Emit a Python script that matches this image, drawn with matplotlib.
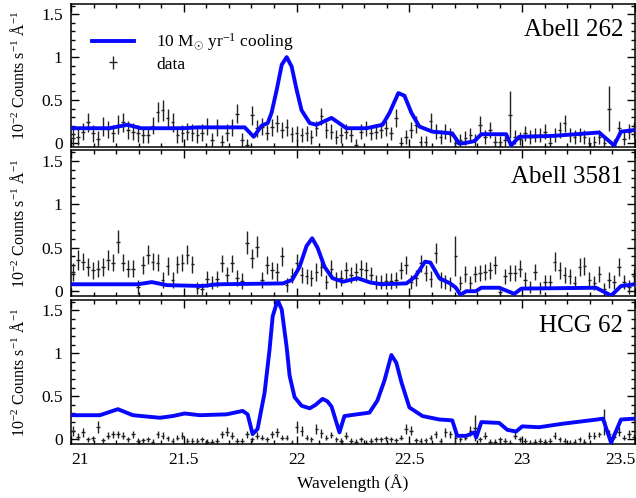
import numpy as np
import matplotlib
matplotlib.use("Agg")
import matplotlib.pyplot as plt
from matplotlib.ticker import MultipleLocator, FixedLocator, FuncFormatter
from matplotlib.legend_handler import HandlerErrorbar

plt.rcParams["font.family"] = ["Liberation Serif", "DejaVu Serif"]
plt.rcParams["mathtext.fontset"] = "custom"
plt.rcParams["mathtext.rm"] = "Liberation Serif"
plt.rcParams["mathtext.it"] = "Liberation Serif:italic"

# spectral bins (regular RGS-like grid)
wave = np.arange(114) * 0.022 + 21.01

names = ["Abell 262", "Abell 3581", "HCG 62"]
xticks = [21, 21.5, 22, 22.5, 23, 23.5]

# data (10^-2 counts/s/A)
a262_flux = [0.06, 0.07, 0.13, 0.24, 0.11, 0.05, 0.19, 0.16, 0.11, 0.21,
             0.24, 0.15, 0.13, 0.11, 0.09, 0.09, 0.20, 0.36, 0.38, 0.29,
             0.24, 0.09, 0.11, 0.13, 0.12, 0.09, 0.12, 0.19, 0.03, 0.18,
             0.01, 0.12, 0.18, 0.34, 0.03, -0.03, 0.32, 0.17, 0.19, 0.12,
             0.18, 0.23, 0.15, 0.18, 0.10, 0.11, 0.09, 0.11, 0.07, 0.17,
             0.31, 0.15, 0.13, 0.07, 0.09, 0.13, 0.09, -0.02, 0.13, 0.17,
             0.11, 0.13, 0.15, 0.17, 0.11, 0.29, 0.00, 0.07, 0.15, 0.21,
             0.015, 0.015, 0.25, 0.13, 0.07, 0.13, 0.09, 0.00, 0.035, 0.06,
             0.09, 0.035, 0.21, 0.07, 0.15, 0.015, 0.015, 0.035, 0.33, 0.07,
             0.05, 0.11, 0.07, 0.09, 0.09, 0.13, 0.00, 0.09, 0.15, 0.23,
             0.09, 0.07, 0.09, 0.07, 0.00, 0.015, 0.07, 0.00, 0.40, -0.02,
             0.17, 0.05, 0.13, 0.15]
a262_err = [0.10, 0.09, 0.10, 0.11, 0.10, 0.09, 0.11, 0.10, 0.10, 0.11,
            0.11, 0.10, 0.10, 0.10, 0.09, 0.09, 0.10, 0.12, 0.12, 0.11,
            0.11, 0.09, 0.10, 0.10, 0.10, 0.09, 0.10, 0.10, 0.08, 0.10,
            0.08, 0.10, 0.10, 0.11, 0.08, 0.07, 0.11, 0.10, 0.10, 0.09,
            0.10, 0.10, 0.09, 0.10, 0.09, 0.09, 0.08, 0.09, 0.08, 0.09,
            0.10, 0.09, 0.09, 0.08, 0.09, 0.09, 0.08, 0.07, 0.09, 0.09,
            0.08, 0.09, 0.09, 0.09, 0.08, 0.10, 0.07, 0.08, 0.09, 0.10,
            0.07, 0.07, 0.10, 0.09, 0.08, 0.09, 0.08, 0.07, 0.07, 0.08,
            0.08, 0.07, 0.10, 0.08, 0.09, 0.07, 0.07, 0.07, 0.27, 0.08,
            0.08, 0.09, 0.08, 0.08, 0.08, 0.09, 0.07, 0.08, 0.09, 0.10,
            0.08, 0.08, 0.08, 0.08, 0.07, 0.07, 0.08, 0.07, 0.26, 0.07,
            0.09, 0.08, 0.09, 0.09]

a3581_flux = [0.22, 0.36, 0.34, 0.28, 0.24, 0.26, 0.28, 0.36, 0.33, 0.57,
              0.33, 0.26, 0.26, 0.05, 0.30, 0.42, 0.34, 0.33, 0.13, 0.29,
              0.13, 0.31, 0.33, 0.42, 0.31, 0.04, 0.03, 0.14, 0.10, 0.14,
              0.32, 0.19, 0.32, 0.15, 0.12, 0.56, 0.38, 0.51, 0.13, 0.30,
              0.24, 0.22, 0.40, 0.07, 0.18, 0.33, 0.19, 0.17, 0.15, 0.22,
              0.28, 0.11, 0.26, 0.13, 0.15, 0.24, 0.19, 0.22, 0.26, 0.24,
              0.19, 0.11, 0.11, 0.12, 0.12, 0.13, 0.24, 0.30, 0.11, 0.15,
              0.32, 0.21, 0.14, 0.44, 0.13, 0.11, 0.08, 0.41, 0.09, 0.20,
              0.10, 0.20, 0.21, 0.22, 0.24, 0.30, -0.01, 0.17, 0.21, 0.21,
              0.26, 0.13, 0.05, 0.22, 0.04, 0.11, 0.11, 0.34, 0.24, 0.19,
              0.17, 0.10, 0.28, 0.29, 0.13, 0.09, 0.20, 0.02, 0.13, 0.11,
              0.28, 0.11, 0.05, 0.17]
a3581_err = [0.10, 0.11, 0.10, 0.10, 0.10, 0.10, 0.10, 0.11, 0.10, 0.13,
             0.10, 0.10, 0.10, 0.08, 0.10, 0.11, 0.10, 0.10, 0.09, 0.10,
             0.09, 0.10, 0.10, 0.11, 0.10, 0.07, 0.07, 0.09, 0.08, 0.09,
             0.10, 0.09, 0.10, 0.09, 0.09, 0.13, 0.11, 0.12, 0.09, 0.10,
             0.10, 0.10, 0.11, 0.08, 0.09, 0.10, 0.09, 0.09, 0.09, 0.10,
             0.10, 0.08, 0.10, 0.09, 0.09, 0.10, 0.09, 0.10, 0.10, 0.10,
             0.09, 0.08, 0.08, 0.09, 0.09, 0.09, 0.10, 0.10, 0.08, 0.09,
             0.10, 0.09, 0.09, 0.11, 0.09, 0.08, 0.08, 0.23, 0.08, 0.09,
             0.08, 0.09, 0.09, 0.09, 0.10, 0.10, 0.07, 0.09, 0.09, 0.09,
             0.10, 0.09, 0.07, 0.09, 0.07, 0.08, 0.08, 0.11, 0.10, 0.09,
             0.09, 0.08, 0.10, 0.10, 0.09, 0.08, 0.09, 0.07, 0.09, 0.08,
             0.10, 0.08, 0.08, 0.09]

hcg62_flux = [0.10, 0.03, 0.08, 0.00, 0.01, 0.14, -0.01, 0.04, 0.06, 0.06,
              0.04, 0.00, 0.06, -0.02, -0.01, 0.00, -0.03, 0.06, 0.04, 0.01,
              -0.02, 0.02, 0.04, -0.02, -0.02, -0.02, 0.00, -0.03, -0.03, -0.02,
              0.06, 0.09, 0.04, -0.02, -0.02, 0.06, 0.00, 0.04, 0.02, 0.00,
              0.06, 0.08, 0.02, 0.02, -0.04, 0.14, 0.10, 0.02, 0.00, 0.12,
              0.07, 0.02, 0.05, 0.00, -0.02, 0.04, -0.02, -0.03, 0.00, -0.04,
              -0.02, 0.00, 0.00, 0.01, 0.00, -0.01, 0.02, 0.12, 0.10, -0.01,
              -0.02, -0.01, 0.02, 0.06, -0.02, 0.08, 0.06, 0.02, 0.00, 0.02,
              0.10, 0.13, 0.00, 0.04, -0.03, -0.03, 0.00, -0.02, -0.04, 0.04,
              0.00, -0.02, -0.04, -0.03, -0.02, -0.03, -0.02, 0.04, 0.00, -0.02,
              -0.04, -0.03, 0.00, -0.03, 0.04, 0.04, 0.06, 0.20, 0.06, 0.03,
              0.09, 0.02, 0.06, 0.03]
hcg62_err = [0.06, 0.04, 0.05, 0.03, 0.03, 0.07, 0.03, 0.04, 0.04, 0.04,
             0.04, 0.03, 0.04, 0.03, 0.03, 0.03, 0.03, 0.04, 0.04, 0.03,
             0.03, 0.03, 0.04, 0.03, 0.03, 0.03, 0.03, 0.03, 0.03, 0.03,
             0.04, 0.05, 0.04, 0.03, 0.03, 0.04, 0.03, 0.04, 0.03, 0.03,
             0.04, 0.05, 0.03, 0.03, 0.03, 0.07, 0.06, 0.03, 0.03, 0.06,
             0.05, 0.03, 0.04, 0.03, 0.03, 0.04, 0.03, 0.03, 0.03, 0.03,
             0.03, 0.03, 0.03, 0.03, 0.03, 0.03, 0.03, 0.06, 0.05, 0.03,
             0.03, 0.03, 0.03, 0.04, 0.03, 0.05, 0.04, 0.07, 0.03, 0.03,
             0.06, 0.15, 0.03, 0.04, 0.03, 0.03, 0.03, 0.03, 0.03, 0.04,
             0.03, 0.03, 0.03, 0.03, 0.03, 0.03, 0.03, 0.04, 0.03, 0.03,
             0.03, 0.03, 0.03, 0.03, 0.04, 0.04, 0.03, 0.15, 0.05, 0.03,
             0.05, 0.03, 0.05, 0.03]

# 10 Msun/yr cooling-flow model
a262_mw = [21.0, 21.17, 21.25, 21.31, 21.50, 21.56, 21.77, 21.81, 21.845, 21.872,
           21.889, 21.912, 21.934, 21.956, 21.978, 22.0, 22.022, 22.058, 22.088, 22.155,
           22.221, 22.31, 22.381, 22.412, 22.451, 22.478, 22.509, 22.544, 22.602, 22.69,
           22.721, 22.752, 22.788, 22.819, 22.929, 22.951, 22.987, 23.133, 23.341, 23.407,
           23.438, 23.5]
a262_model = [0.17, 0.17, 0.21, 0.17, 0.17, 0.18, 0.18, 0.07, 0.20, 0.23,
              0.35, 0.62, 0.91, 1.0, 0.89, 0.62, 0.38, 0.23, 0.21, 0.29,
              0.17, 0.17, 0.21, 0.35, 0.58, 0.55, 0.35, 0.19, 0.13, 0.11,
              -0.01, 0.0, 0.02, 0.10, 0.10, -0.03, 0.07, 0.08, 0.12, -0.03,
              0.13, 0.15]

a3581_mw = [21.0, 21.296, 21.358, 21.425, 21.584, 21.65, 21.94, 21.98, 22.013, 22.044,
            22.069, 22.093, 22.124, 22.159, 22.206, 22.27, 22.327, 22.376, 22.487, 22.527,
            22.569, 22.593, 22.633, 22.681, 22.706, 22.726, 22.752, 22.794, 22.819, 22.898,
            22.965, 22.996, 23.327, 23.395, 23.438, 23.5]
a3581_model = [0.08, 0.08, 0.105, 0.07, 0.06, 0.08, 0.09, 0.13, 0.28, 0.52,
               0.61, 0.50, 0.28, 0.15, 0.11, 0.15, 0.10, 0.08, 0.09, 0.17,
               0.34, 0.33, 0.15, 0.09, 0.04, -0.04, 0.0, 0.0, 0.04, 0.04,
               -0.03, 0.03, 0.04, -0.05, 0.06, 0.08]

hcg62_mw = [21.0, 21.128, 21.208, 21.274, 21.394, 21.451, 21.504, 21.571, 21.69, 21.761,
            21.783, 21.805, 21.827, 21.858, 21.88, 21.894, 21.916, 21.934, 21.956, 21.969,
            21.991, 22.022, 22.058, 22.084, 22.115, 22.137, 22.155, 22.19, 22.212, 22.323,
            22.358, 22.389, 22.42, 22.442, 22.465, 22.5, 22.558, 22.633, 22.69, 22.712,
            22.752, 22.788, 22.796, 22.819, 22.898, 22.934, 22.973, 23.0, 23.075, 23.177,
            23.332, 23.358, 23.394, 23.438, 23.5]
hcg62_model = [0.28, 0.28, 0.35, 0.28, 0.25, 0.27, 0.30, 0.28, 0.29, 0.33,
               0.29, 0.06, 0.12, 0.54, 1.04, 1.43, 1.62, 1.51, 1.07, 0.74,
               0.49, 0.39, 0.36, 0.40, 0.47, 0.44, 0.38, 0.08, 0.27, 0.31,
               0.45, 0.68, 0.98, 0.89, 0.66, 0.37, 0.27, 0.23, 0.22, 0.04,
               0.04, 0.08, 0.02, 0.20, 0.19, 0.11, 0.09, 0.15, 0.14, 0.18,
               0.23, 0.24, -0.04, 0.23, 0.24]

fluxes = [a262_flux, a3581_flux, hcg62_flux]
errs = [a262_err, a3581_err, hcg62_err]
model_w = [a262_mw, a3581_mw, hcg62_mw]
models = [a262_model, a3581_model, hcg62_model]

W, H = 636, 498
fig = plt.figure(figsize=(W / 100, H / 100), dpi=100)

# panel boxes in pixels: (top, bottom)
boxes = [(4, 147.5), (150.5, 296), (300, 444)]
left, right = 71, 635

for k, (top, bot) in enumerate(boxes):
    ax = fig.add_axes([left / W, 1 - bot / H, (right - left) / W, (bot - top) / H])

    mline, = ax.plot(model_w[k], models[k], color="#0808ff", lw=2.8, zorder=3,
                     label=r"10 M$_{\odot}$ yr$^{-1}$ cooling")
    eb = ax.errorbar(wave, fluxes[k], yerr=errs[k], xerr=0.008, fmt="none",
                     ecolor="#222222", elinewidth=1.0, capsize=0, zorder=2,
                     label="data")

    ax.set_xlim(21.0, 23.5)
    ax.set_ylim(-0.055, 1.62)
    ax.xaxis.set_major_locator(FixedLocator(xticks))
    ax.xaxis.set_minor_locator(MultipleLocator(0.1))
    ax.yaxis.set_major_locator(MultipleLocator(0.5))
    ax.yaxis.set_minor_locator(MultipleLocator(0.1))
    ax.yaxis.set_major_formatter(FuncFormatter(lambda v, p: "%g" % v))
    ax.tick_params(which="both", direction="in", top=True, right=True,
                   width=1.0, labelsize=12.5, pad=6)
    ax.tick_params(which="major", length=6)
    ax.tick_params(which="minor", length=3)
    for s in ax.spines.values():
        s.set_linewidth(1.1)

    ax.set_ylabel(r"10$^{-2}$ Counts s$^{-1}$ Å$^{-1}$", fontsize=11.5)
    ax.yaxis.set_label_coords(-0.076, 0.5)

    ax.text(0.979, 0.82, names[k], transform=ax.transAxes, ha="right",
            va="center", fontsize=18)

    if k < 2:
        ax.set_xticklabels([])
    else:
        labs = ax.set_xticklabels(["%g" % t for t in xticks])
        labs[0].set_horizontalalignment("left")
        labs[-1].set_horizontalalignment("right")
        ax.set_xlabel("Wavelength (Å)", fontsize=12.5, labelpad=4)

    if k == 0:
        ax.legend(handles=[mline, eb], loc="upper left",
                  bbox_to_anchor=(0.025, 0.86), frameon=False, fontsize=12.5,
                  handlelength=2.4, handletextpad=1.3, labelspacing=0.2,
                  borderaxespad=0,
                  handler_map={type(eb): HandlerErrorbar(xerr_size=0.25,
                                                         yerr_size=0.35)})

fig.savefig("out.png", dpi=100)
